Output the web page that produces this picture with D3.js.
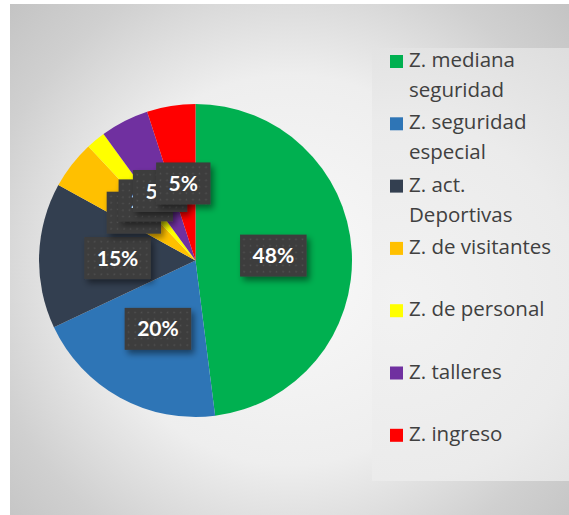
<!DOCTYPE html>
<html>
<head>
<meta charset="utf-8">
<script src="https://cdn.jsdelivr.net/npm/d3@7"></script>
<style>
  html, body { margin: 0; padding: 0; background: #ffffff; }
  svg { display: block; }
</style>
</head>
<body>
<svg id="chart" width="569" height="515"></svg>
<script>
// Zone shares (percent), clockwise from 12 o'clock
const categories = [
  "Z. mediana seguridad",
  "Z. seguridad especial",
  "Z. act. Deportivas",
  "Z. de visitantes",
  "Z. de personal",
  "Z. talleres",
  "Z. ingreso"
];
const values = [48, 20, 15, 5, 2, 5, 5];
const colors = ["#00B050", "#2E75B6", "#333F50", "#FFC000", "#FFFF00", "#7030A0", "#FF0000"];
// Legend text as it wraps in the legend column
const legendLines = [
  ["Z. mediana", "seguridad"],
  ["Z. seguridad", "especial"],
  ["Z. act.", "Deportivas"],
  ["Z. de visitantes"],
  ["Z. de personal"],
  ["Z. talleres"],
  ["Z. ingreso"]
];

const svg = d3.select("#chart");
const defs = svg.append("defs");

// chart area background: soft radial gray
const bg = defs.append("radialGradient")
  .attr("id", "bgGrad")
  .attr("gradientUnits", "userSpaceOnUse")
  .attr("cx", 290).attr("cy", 270).attr("r", 390);
[[0, "#f9f9f9"], [0.5, "#eeeeee"], [0.66, "#dedede"], [0.8, "#d0d0d0"], [1, "#c3c3c3"]]
  .forEach(([o, c]) => bg.append("stop").attr("offset", o).attr("stop-color", c));

const lg = defs.append("radialGradient")
  .attr("id", "legGrad")
  .attr("gradientUnits", "userSpaceOnUse")
  .attr("cx", 400).attr("cy", 300).attr("r", 300);
[[0, "#f2f2f2"], [0.6, "#ebebeb"], [1, "#dedede"]]
  .forEach(([o, c]) => lg.append("stop").attr("offset", o).attr("stop-color", c));

// dotted dark texture for the data labels
const pat = defs.append("pattern")
  .attr("id", "dots")
  .attr("patternUnits", "userSpaceOnUse")
  .attr("width", 6.5).attr("height", 6.5);
pat.append("rect").attr("width", 6.5).attr("height", 6.5).attr("fill", "#3d3d3d");
pat.append("rect").attr("x", 2.5).attr("y", 2.5).attr("width", 1.4).attr("height", 1.4).attr("fill", "#545454");

const shadow = defs.append("filter")
  .attr("id", "shadow")
  .attr("x", "-30%").attr("y", "-30%").attr("width", "170%").attr("height", "170%");
shadow.append("feDropShadow")
  .attr("dx", 3).attr("dy", 4).attr("stdDeviation", 3)
  .attr("flood-color", "#000").attr("flood-opacity", 0.45);

svg.append("rect")
  .attr("x", 10).attr("y", 4).attr("width", 559).attr("height", 511)
  .attr("fill", "url(#bgGrad)");

// legend panel
svg.append("rect")
  .attr("x", 372).attr("y", 48).attr("width", 197).attr("height", 433)
  .attr("fill", "url(#legGrad)");

// pie
const cx = 195.5, cy = 260.5, radius = 156.5;
const pie = d3.pie().sort(null).value(d => d)(values);
const arc = d3.arc().innerRadius(0).outerRadius(radius);
const labelArc = d3.arc().innerRadius(78).outerRadius(78);

const g = svg.append("g").attr("transform", `translate(${cx},${cy})`);
g.selectAll("path.slice")
  .data(pie)
  .join("path")
  .attr("class", "slice")
  .attr("d", arc)
  .attr("fill", (d, i) => colors[i]);

// data labels
const total = d3.sum(values);
const fmt = v => Math.round(v / total * 100) + "%";
const labels = g.selectAll("g.lbl")
  .data(pie)
  .join("g")
  .attr("class", "lbl")
  .attr("transform", d => `translate(${labelArc.centroid(d)})`);

labels.each(function(d) {
  const el = d3.select(this);
  const txt = el.append("text")
    .attr("text-anchor", "middle")
    .attr("dy", "0.36em")
    .attr("font-family", "Lato, 'Open Sans', sans-serif")
    .attr("font-weight", "bold")
    .attr("font-size", 21)
    .attr("fill", "#ffffff")
    .text(fmt(d.value));
  const w = txt.node().getComputedTextLength() + 25;
  const h = 42;
  el.insert("rect", "text")
    .attr("x", -w / 2).attr("y", -h / 2)
    .attr("width", w).attr("height", h)
    .attr("fill", "url(#dots)")
    .attr("filter", "url(#shadow)");
});

// legend
const legend = svg.append("g");
const rowStep = 62.3, firstBase = 67, lineGap = 30;
legendLines.forEach((lines, i) => {
  const base = firstBase + rowStep * i;
  legend.append("rect")
    .attr("x", 390).attr("y", base - 12)
    .attr("width", 13).attr("height", 13)
    .attr("fill", colors[i]);
  lines.forEach((t, j) => {
    legend.append("text")
      .attr("x", 409).attr("y", base + j * lineGap)
      .attr("font-family", "'Open Sans', sans-serif")
      .attr("font-size", 20.5)
      .attr("fill", "#404040")
      .text(t);
  });
});
</script>
</body>
</html>
